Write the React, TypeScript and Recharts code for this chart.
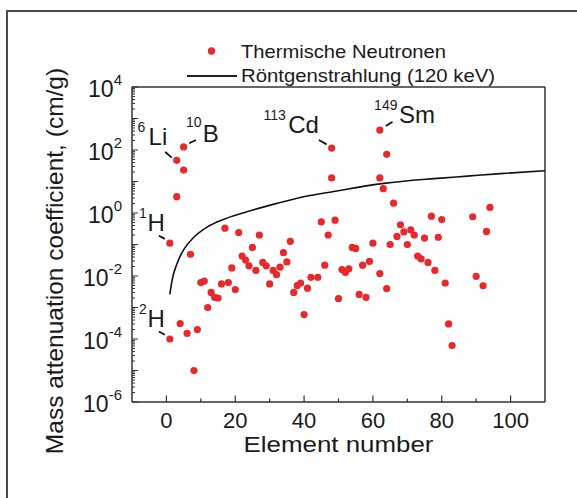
import React from 'react';
import {
  ComposedChart,
  Scatter,
  Line,
  XAxis,
  YAxis,
  ReferenceLine,
  ReferenceDot,
  Label,
} from 'recharts';

// thermal neutron mass attenuation coefficient
const elementNumbers = [
  1, 1, 3, 3, 4, 5, 5, 6, 7, 8, 9, 10, 11, 12, 13, 14, 15, 16, 17, 18, 19, 20,
  21, 22, 23, 24, 25, 26, 27, 28, 29, 30, 31, 32, 33, 34, 35, 36, 37, 38, 39,
  40, 41, 42, 44, 45, 46, 47, 48, 48, 49, 50, 51, 52, 53, 54, 55, 56, 57, 58,
  59, 60, 62, 62, 62, 63, 64, 64, 65, 66, 67, 68, 69, 70, 71, 72, 73, 74, 75,
  76, 77, 78, 79, 80, 81, 82, 83, 89, 90, 92, 93, 94,
];
const neutronValues = [
  0.11, 1e-4, 47, 3.3, 3.1e-4, 125, 23, 1.5e-4, 0.049, 1e-5, 2e-4, 0.0062,
  0.0069, 0.001, 0.003, 0.0021, 0.002, 0.0056, 0.33, 0.0062, 0.018, 0.0037,
  0.24, 0.043, 0.032, 0.021, 0.081, 0.015, 0.2, 0.027, 0.021, 0.0056, 0.015,
  0.011, 0.019, 0.055, 0.028, 0.126, 0.003, 0.005, 0.006, 6e-4, 0.0041,
  0.0091, 0.0091, 0.52, 0.022, 0.2, 115, 13, 0.59, 0.0019, 0.016, 0.013,
  0.017, 0.081, 0.075, 0.0026, 0.022, 0.0021, 0.029, 0.11, 430, 13, 0.012,
  5.9, 73, 0.004, 0.1, 2.05, 0.18, 0.42, 0.25, 0.1, 0.29, 0.2, 0.043, 0.035,
  0.16, 0.027, 0.79, 0.015, 0.17, 0.62, 0.006, 3e-4, 6.2e-5, 0.76, 0.0098,
  0.0049, 0.26, 1.5,
];

// X-ray (120 keV) curve
const xrayZ = [1, 1.65, 3.1, 5, 7.9, 11.8, 16.7, 22.5, 30.2, 38, 48.6, 63.2, 77.7, 87.4, 97.1, 110];
const xrayValues = [
  0.0026, 0.0074, 0.025, 0.068, 0.166, 0.355, 0.63, 1.02, 1.78, 2.95, 4.8,
  8.7, 12.3, 14.8, 17.8, 21.9,
];

// annotated isotopes
const isotopeNames = ['Li', 'B', 'Cd', 'Sm', 'H', 'H'];
const isotopeMass = ['6', '10', '113', '149', '1', '2'];
const isotopeZ = [3, 5, 48, 62, 1, 1];
const isotopeValues = [47, 125, 115, 430, 0.11, 1e-4];

const xMajorTicks = [0, 20, 40, 60, 80, 100];
const xMinorTicks = [10, 30, 50, 70, 90];
const yDecades = [1e-6, 1e-5, 1e-4, 1e-3, 1e-2, 1e-1, 1, 10, 100, 1000, 1e4];
const yMinorSteps = [2, 3, 4, 5, 6, 7, 8, 9];
const yLabelExponents = [-6, -4, -2, 0, 2, 4];

const legendLabels = ['Thermische Neutronen', 'Röntgenstrahlung (120 keV)'];
const xTitle = 'Element number';
const yTitle = 'Mass attenuation coefficient, (cm/g)';

const neutronData = elementNumbers.map((z, i) => ({ z, v: neutronValues[i] }));
const xrayData = xrayZ.map((z, i) => ({ z, v: xrayValues[i] }));
const xTicks = [...xMajorTicks, ...xMinorTicks].sort((a, b) => a - b);
const yTicks = yDecades.flatMap((d) =>
  d < 1e4 ? [d, ...yMinorSteps.map((m) => m * d)] : [d]
);

const FONT = '"Liberation Sans", Arial, Helvetica, sans-serif';
const AXIS = '#333';
const RED = '#e8282b';
const TEXT = '#1a1a1a';

// offsets of the annotation texts from their dots
const annLayout = [
  { anchor: 'end', nx: -9.5, ny: -15, sx: -31.5, sy: -28, l: [-11.5, -8.3, -5, -2.7] },
  { anchor: 'start', nx: 19, ny: -5.3, sx: 2.3, sy: -20.3, l: [5.6, -3.7, 12.3, -7] },
  { anchor: 'end', nx: -12.7, ny: -14.7, sx: -45.8, sy: -28, l: [-12.7, -8, -5, -3.7] },
  { anchor: 'start', nx: 19.3, ny: -6.7, sx: -5.7, sy: -20, l: [6, -4, 12.7, -8.3] },
  { anchor: 'end', nx: -5, ny: -12, sx: -23, sy: -25, l: [-11, -7.5, -5, -4.3] },
  { anchor: 'end', nx: -5, ny: -12, sx: -23, sy: -25, l: [-11, -7.5, -5, -4.3] },
];

const YTick = (props: any) => {
  const { x, y, payload } = props;
  const e = Math.log10(payload.value);
  const exp = Math.round(e);
  const isDecade = Math.abs(e - exp) < 1e-9;
  const labeled = isDecade && yLabelExponents.includes(exp);
  return (
    <g>
      <line x1={x} x2={x + (isDecade ? 6 : 3)} y1={y} y2={y} stroke={AXIS} strokeWidth={1} />
      {labeled && (
        <text x={x - 10} y={y + 10} textAnchor="end" fontSize={23} fill={TEXT} fontFamily={FONT}>
          10
          <tspan fontSize={15} dy={-12}>
            {exp}
          </tspan>
        </text>
      )}
    </g>
  );
};

const XTick = (props: any) => {
  const { x, y, payload } = props;
  const major = xMajorTicks.includes(payload.value);
  return (
    <g>
      <line x1={x} x2={x} y1={y} y2={y - (major ? 6.5 : 3.5)} stroke={AXIS} strokeWidth={1.2} />
      {major && (
        <text x={x} y={y + 25.5} textAnchor="middle" fontSize={22} fill={TEXT} fontFamily={FONT}>
          {payload.value}
        </text>
      )}
    </g>
  );
};

const Dot = (props: any) => <circle cx={props.cx} cy={props.cy} r={3.6} fill={RED} />;

const annotationShape = (i: number) => (props: any) => {
  const { cx, cy } = props;
  const a = annLayout[i];
  return (
    <g fontFamily={FONT} fill={TEXT}>
      <line
        x1={cx + a.l[0]}
        y1={cy + a.l[1]}
        x2={cx + a.l[2]}
        y2={cy + a.l[3]}
        stroke="#111"
        strokeWidth={1.8}
      />
      <text x={cx + a.sx} y={cy + a.sy} fontSize={14} textAnchor={a.anchor as any}>
        {isotopeMass[i]}
      </text>
      <text x={cx + a.nx} y={cy + a.ny} fontSize={24} textAnchor={a.anchor as any}>
        {isotopeNames[i]}
      </text>
    </g>
  );
};

export default function App() {
  return (
    <div
      style={{
        position: 'absolute',
        left: 0,
        top: 0,
        width: 577,
        height: 498,
        background: '#fff',
        overflow: 'hidden',
      }}
    >
      <div
        style={{
          position: 'absolute',
          left: 6,
          top: 10,
          width: 700,
          height: 700,
          borderLeft: '2px solid #4a4a4a',
          borderTop: '2px solid #4a4a4a',
        }}
      />
      <div style={{ position: 'absolute', left: 0, top: 0 }}>
        <ComposedChart
          width={577}
          height={498}
          margin={{ top: 87, right: 32, bottom: 46, left: 32 }}
        >
          <XAxis
            dataKey="z"
            type="number"
            domain={[-10, 110]}
            ticks={xTicks}
            interval={0}
            tickSize={0}
            tickMargin={0}
            tickLine={false}
            tick={XTick}
            allowDataOverflow
            height={50}
            axisLine={{ stroke: AXIS, strokeWidth: 1.5 }}
          >
            <Label
              content={(p: any) => {
                const vb = p.viewBox;
                return (
                  <text
                    x={vb.x + vb.width / 2}
                    y={vb.y + 50}
                    textAnchor="middle"
                    fontSize={22}
                    textLength={190}
                    lengthAdjust="spacingAndGlyphs"
                    fill={TEXT}
                    fontFamily={FONT}
                  >
                    {xTitle}
                  </text>
                );
              }}
            />
          </XAxis>
          <YAxis
            dataKey="v"
            type="number"
            scale="log"
            domain={[1e-6, 1e4]}
            ticks={yTicks}
            interval={0}
            tickSize={0}
            tickMargin={0}
            tickLine={false}
            tick={YTick}
            allowDataOverflow
            width={100}
            axisLine={{ stroke: AXIS, strokeWidth: 1.5 }}
          >
            <Label
              content={(p: any) => {
                const vb = p.viewBox;
                const cx = vb.x + 31;
                const cy = vb.y + vb.height / 2 + 16.5;
                return (
                  <text
                    x={cx}
                    y={cy}
                    transform={`rotate(-90, ${cx}, ${cy})`}
                    textAnchor="middle"
                    fontSize={24.5}
                    fill={TEXT}
                    fontFamily={FONT}
                  >
                    {yTitle}
                  </text>
                );
              }}
            />
          </YAxis>
          <ReferenceLine y={1e4} stroke={AXIS} strokeWidth={1.5} />
          <ReferenceLine x={110} stroke={AXIS} strokeWidth={1.5} />
          <Line
            data={xrayData}
            dataKey="v"
            type="monotone"
            stroke="#111"
            strokeWidth={1.6}
            dot={false}
            isAnimationActive={false}
          />
          <Scatter data={neutronData} dataKey="v" shape={Dot} isAnimationActive={false} />
          {isotopeNames.map((n, i) => (
            <ReferenceDot
              key={n + i}
              x={isotopeZ[i]}
              y={isotopeValues[i]}
              r={0}
              ifOverflow="visible"
              shape={annotationShape(i)}
            />
          ))}
        </ComposedChart>
      </div>
      <svg
        width={577}
        height={100}
        style={{ position: 'absolute', left: 0, top: 0, pointerEvents: 'none' }}
        fontFamily={FONT}
      >
        <circle cx={211.5} cy={51} r={3.7} fill={RED} />
        <text x={241} y={57.5} fontSize={18.5} textLength={205} lengthAdjust="spacingAndGlyphs" fill={TEXT}>
          {legendLabels[0]}
        </text>
        <line x1={187} x2={237} y1={76} y2={76} stroke="#222" strokeWidth={1.8} />
        <text x={241} y={82} fontSize={18.5} textLength={254} lengthAdjust="spacingAndGlyphs" fill={TEXT}>
          {legendLabels[1]}
        </text>
      </svg>
    </div>
  );
}
